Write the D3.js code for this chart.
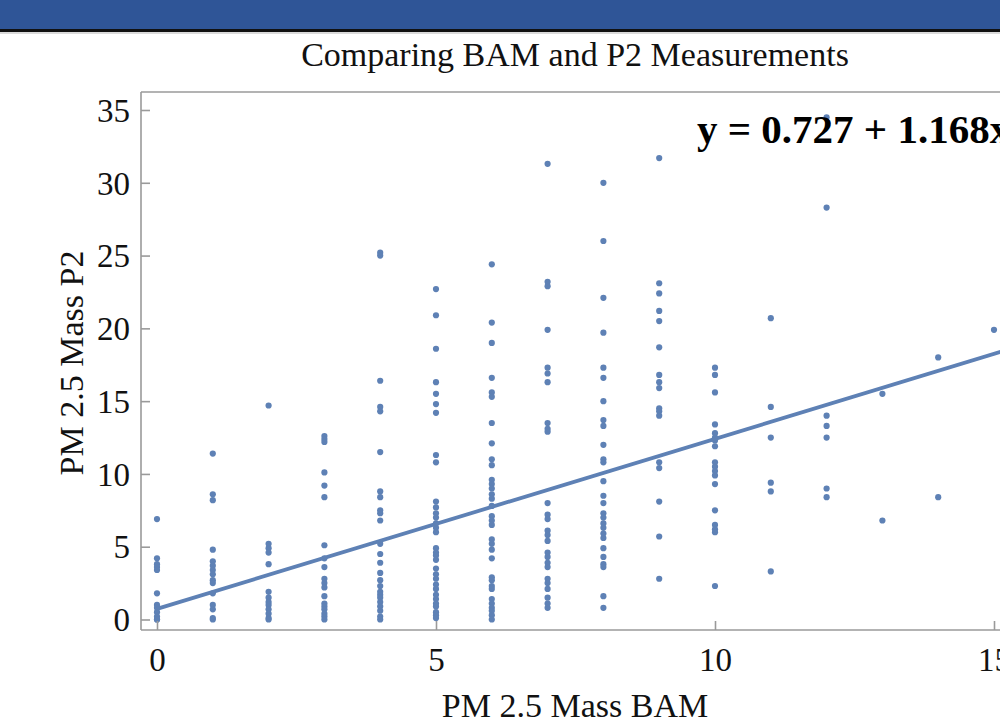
<!DOCTYPE html>
<html>
<head>
<meta charset="utf-8">
<script src="https://cdn.jsdelivr.net/npm/d3@7"></script>
<style>
  body { margin: 0; background: #fff; }
  #chart { width: 1000px; height: 727px; overflow: hidden; }
  text { font-family: "Liberation Serif", "Times New Roman", serif; }
</style>
</head>
<body>
<div id="chart"></div>
<script>
// BAM reading levels (x) and the P2 readings seen at each level (y)
const bamLevels = [0, 1, 2, 3, 4, 5, 6, 7, 8, 9, 10, 11, 12, 13, 14, 15];
const p2Readings = [
  [6.9, 4.2, 3.8, 3.6, 3.4, 1.8, 1.0, 0.8, 0.5, 0.2, 0.0, 0.0],
  [11.4, 8.6, 8.2, 4.8, 4.0, 3.7, 3.4, 3.1, 2.7, 2.5, 1.8, 1.0, 0.7, 0.1, 0.0],
  [14.7, 5.2, 4.9, 4.6, 3.8, 1.9, 1.5, 1.2, 1.0, 0.7, 0.4, 0.1, 0.0],
  [12.6, 12.4, 12.2, 10.1, 9.2, 8.4, 5.1, 4.2, 3.6, 2.8, 2.5, 2.2, 1.6, 1.1, 0.9, 0.7, 0.4, 0.2, 0.0],
  [25.2, 25.0, 16.4, 14.6, 14.3, 11.5, 8.8, 8.4, 7.5, 7.3, 6.8, 5.2, 4.5, 3.9, 3.2, 2.7, 2.3, 1.9, 1.7, 1.5, 1.2, 0.9, 0.6, 0.2, 0.0],
  [22.7, 20.9, 18.6, 16.3, 15.5, 14.8, 14.2, 11.3, 10.8, 8.1, 7.7, 7.3, 7.0, 6.6, 6.3, 6.0, 4.9, 4.6, 4.4, 4.1, 3.5, 3.1, 2.8, 2.4, 2.1, 1.7, 1.4, 1.1, 0.9, 0.5, 0.3, 0.1],
  [24.4, 20.4, 19.0, 16.6, 15.6, 15.3, 13.5, 12.1, 11.0, 10.6, 9.6, 9.3, 9.0, 8.6, 8.3, 7.8, 7.1, 6.8, 6.5, 5.5, 5.2, 4.8, 4.2, 2.9, 2.7, 2.3, 2.1, 1.4, 1.1, 0.8, 0.6, 0.3, 0.0],
  [31.3, 23.2, 22.9, 19.9, 17.3, 16.9, 16.3, 13.5, 13.1, 12.9, 8.0, 7.2, 6.9, 6.1, 5.8, 5.4, 4.6, 4.3, 3.9, 3.6, 2.8, 2.5, 2.1, 1.5, 1.1, 0.8],
  [30.0, 26.0, 22.1, 19.7, 17.3, 16.6, 15.0, 13.7, 13.3, 12.0, 11.0, 10.8, 9.5, 8.5, 8.0, 7.3, 7.0, 6.6, 6.3, 5.9, 5.6, 4.9, 4.3, 3.8, 3.6, 1.6, 0.8],
  [31.7, 23.1, 22.4, 21.2, 20.5, 18.7, 16.8, 16.3, 15.9, 14.5, 14.3, 14.0, 10.8, 10.4, 8.1, 5.7, 2.8],
  [17.3, 16.8, 15.6, 13.4, 12.8, 12.5, 12.3, 11.9, 10.8, 10.5, 10.2, 9.9, 9.3, 7.5, 6.5, 6.2, 6.0, 2.3],
  [20.7, 14.6, 12.5, 9.4, 8.8, 3.3],
  [34.5, 28.3, 14.0, 13.3, 12.5, 9.0, 8.4],
  [15.5, 6.8],
  [18.0, 8.4],
  [19.9],
];

const xTicks = [0, 5, 10, 15];
const yTicks = [0, 5, 10, 15, 20, 25, 30, 35];

const fitIntercept = 0.727;
const fitSlope = 1.168;
const fitLabel = "y = 0.727 + 1.168x";

const chartTitle = "Comparing BAM and P2 Measurements";
const xLabel = "PM 2.5 Mass BAM";
const yLabel = "PM 2.5 Mass P2";

const W = 1000, H = 727;
const POINT_COLOR = "#5e81b5";
const FRAME_COLOR = "#9a9a9a";

const svg = d3.select("#chart").append("svg")
  .attr("width", W)
  .attr("height", H)
  .attr("viewBox", `0 0 ${W} ${H}`);

// slide header band
svg.append("rect").attr("x", 0).attr("y", 0).attr("width", W).attr("height", 29)
  .attr("fill", "#2f5597");
svg.append("line").attr("x1", 0).attr("x2", W).attr("y1", 30.5).attr("y2", 30.5)
  .attr("stroke", "#111").attr("stroke-width", 3);
svg.append("line").attr("x1", 0).attr("x2", W).attr("y1", 33).attr("y2", 33)
  .attr("stroke", "#b5b5b5").attr("stroke-width", 1);

// plot frame (right side runs off the slide)
const frame = { left: 141, top: 92, bottom: 630, right: 1020 };

const x = d3.scaleLinear().domain([0, 15]).range([157, 994]);
const y = d3.scaleLinear().domain([0, 35]).range([619.5, 110]);

svg.append("text")
  .attr("x", 575).attr("y", 66)
  .attr("text-anchor", "middle")
  .attr("font-size", 34)
  .attr("fill", "#111")
  .text(chartTitle);

const plot = svg.append("g");

// points
const points = [];
bamLevels.forEach((b, i) => {
  p2Readings[i].forEach((v) => points.push({ bam: b, p2: v }));
});

plot.selectAll("circle.pt")
  .data(points)
  .join("circle")
  .attr("class", "pt")
  .attr("cx", (d) => x(d.bam))
  .attr("cy", (d) => y(d.p2))
  .attr("r", 3.1)
  .attr("fill", POINT_COLOR);

// fitted line
const fitLine = d3.line()
  .x((d) => x(d))
  .y((d) => y(fitIntercept + fitSlope * d));

plot.append("path")
  .datum([0, 15.5])
  .attr("d", fitLine)
  .attr("fill", "none")
  .attr("stroke", POINT_COLOR)
  .attr("stroke-width", 3.8);

// frame lines
const fg = svg.append("g").attr("stroke", FRAME_COLOR).attr("stroke-width", 1.6);
fg.append("line").attr("x1", frame.left).attr("x2", frame.left)
  .attr("y1", frame.top).attr("y2", frame.bottom);
fg.append("line").attr("x1", frame.left).attr("x2", frame.right)
  .attr("y1", frame.top).attr("y2", frame.top);
fg.append("line").attr("x1", frame.left).attr("x2", frame.right)
  .attr("y1", frame.bottom).attr("y2", frame.bottom);

// axes: inward ticks, labels outside
const yAxis = d3.axisLeft(y).tickValues(yTicks).tickSize(-9).tickPadding(20);
const xAxis = d3.axisBottom(x).tickValues(xTicks).tickSize(-9).tickPadding(20);

const gy = svg.append("g").attr("transform", `translate(${frame.left},0)`).call(yAxis);
const gx = svg.append("g").attr("transform", `translate(0,${frame.bottom})`).call(xAxis);

[gx, gy].forEach((g) => {
  g.select(".domain").remove();
  g.selectAll(".tick line").attr("stroke", FRAME_COLOR).attr("stroke-width", 1.6);
  g.selectAll(".tick text")
    .attr("font-family", '"Liberation Serif", "Times New Roman", serif')
    .attr("font-size", 33)
    .attr("fill", "#111");
});
gy.selectAll(".tick text").attr("dy", "0.34em").attr("x", -11);
gx.selectAll(".tick text").attr("dy", "0.7em").attr("y", 18);

// axis titles
svg.append("text")
  .attr("x", 575).attr("y", 717)
  .attr("text-anchor", "middle")
  .attr("font-size", 34)
  .attr("fill", "#111")
  .text(xLabel);

svg.append("text")
  .attr("transform", "translate(83,363) rotate(-90)")
  .attr("text-anchor", "middle")
  .attr("font-size", 34)
  .attr("fill", "#111")
  .text(yLabel);

// regression equation
svg.append("text")
  .attr("x", 697).attr("y", 143)
  .attr("font-size", 41)
  .attr("font-weight", "bold")
  .attr("fill", "#000")
  .text(fitLabel);
</script>
</body>
</html>
